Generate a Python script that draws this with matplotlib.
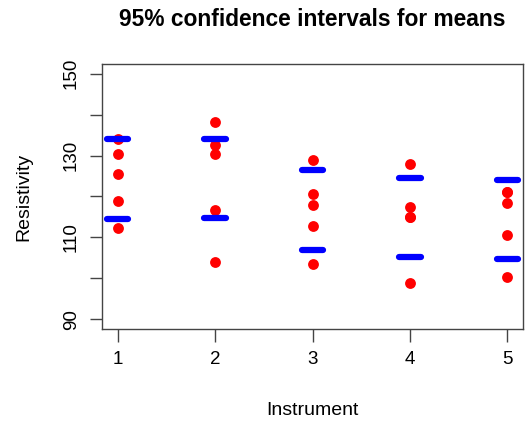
import matplotlib.pyplot as plt

plt.rcParams['font.family'] = ['Liberation Sans', 'DejaVu Sans']

instruments = [1, 2, 3, 4, 5]
inst1 = [134.0, 130.4, 125.6, 118.9, 112.4]
inst2 = [138.2, 132.6, 130.3, 116.6, 104.1]
inst3 = [128.9, 120.5, 118.0, 112.9, 103.4]
inst4 = [127.9, 117.5, 115.0, 115.0, 98.8]
inst5 = [121.0, 121.0, 118.5, 110.5, 100.4]
ci_lower = [114.6, 114.7, 107.0, 105.1, 104.6]
ci_upper = [134.0, 134.1, 126.5, 124.5, 124.0]

groups = [inst1, inst2, inst3, inst4, inst5]

fig = plt.figure(figsize=(5.25, 4.26), dpi=100)
ax = fig.add_axes([0.1943, 0.2277, 0.8019, 0.6221])

for x, vals in zip(instruments, groups):
    ax.plot([x] * len(vals), vals, 'o', color='red', markersize=7.8,
            markeredgewidth=0, zorder=2)

ax.hlines(ci_lower, [x - 0.11 for x in instruments], [x + 0.11 for x in instruments],
          color='blue', linewidth=4.5, capstyle='round', zorder=3)
ax.hlines(ci_upper, [x - 0.11 for x in instruments], [x + 0.11 for x in instruments],
          color='blue', linewidth=4.5, capstyle='round', zorder=3)

ax.set_xlim(0.84, 5.16)
ax.set_ylim(87.6, 152.4)
ax.set_xticks(instruments)
ax.set_yticks([90, 100, 110, 120, 130, 140, 150])
ax.set_yticklabels(['90', '', '110', '', '130', '', '150'], rotation=90, va='center')
ax.tick_params(labelsize=13.5, length=9, width=1, color='#444444', pad=7)

for s in ax.spines.values():
    s.set_color('#444444')
    s.set_linewidth(1)

ax.set_xlabel('Instrument', fontsize=14, labelpad=24)
ax.set_ylabel('Resistivity', fontsize=14, labelpad=22)
fig.text(0.595, 0.955, '95% confidence intervals for means', fontsize=16.4,
         fontweight='bold', ha='center', va='center')

plt.savefig('out.png', dpi=100)
